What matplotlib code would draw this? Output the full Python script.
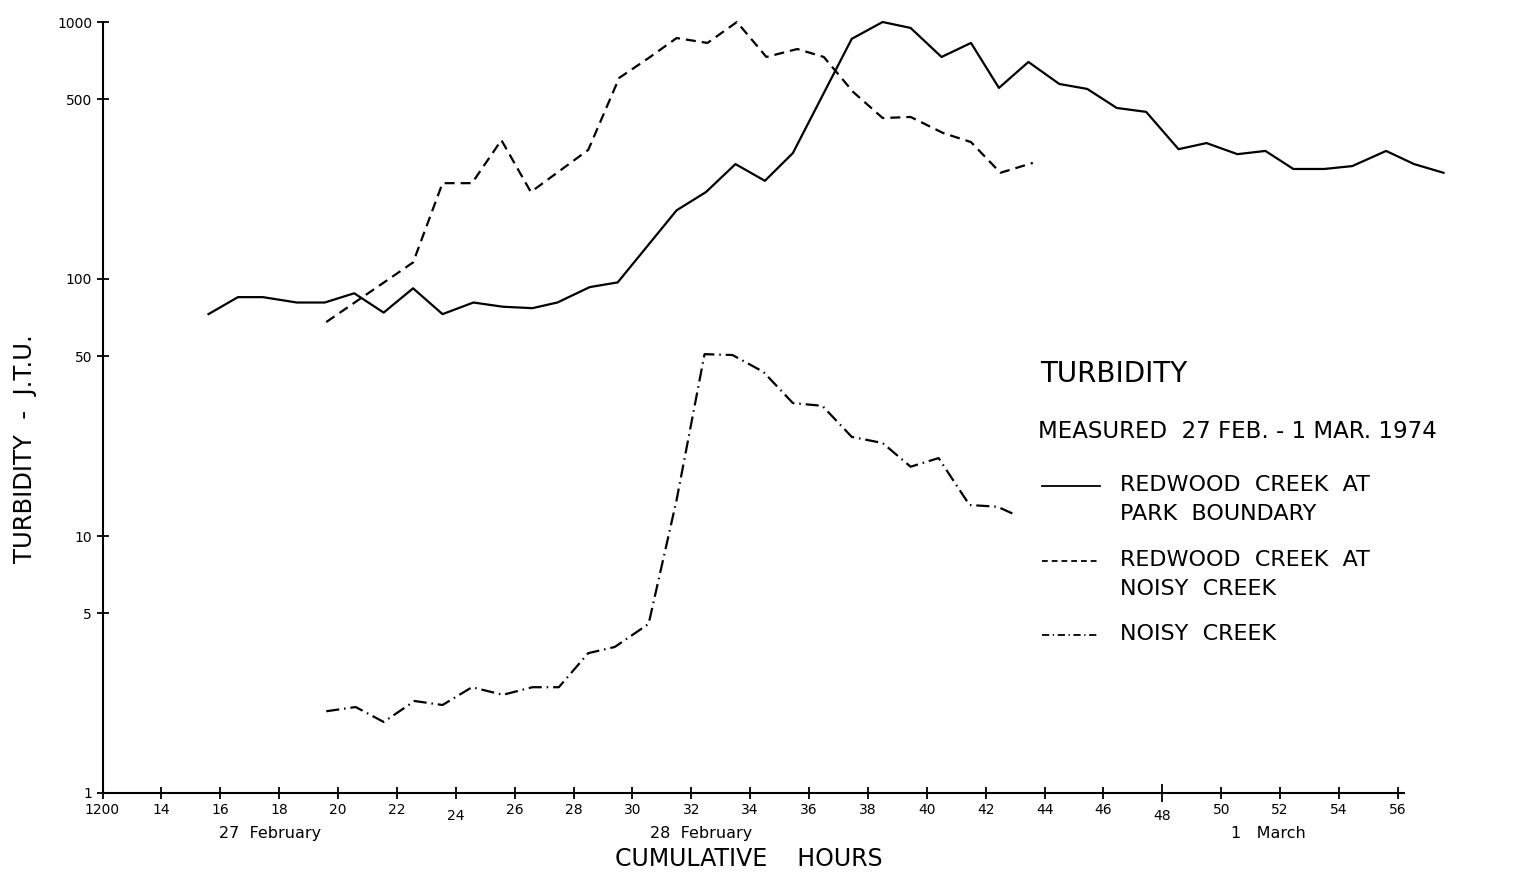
import matplotlib
matplotlib.use("Agg")
import matplotlib.pyplot as plt
from matplotlib.lines import Line2D

# Redwood Creek at park boundary (solid)
park_hours = [15.6, 16.6, 17.45, 18.6, 19.55, 20.55, 21.55, 22.55, 23.55, 24.6,
              25.6, 26.6, 27.45, 28.55, 29.5, 31.5, 32.5, 33.5, 34.5, 35.45,
              37.45, 38.5, 39.45, 40.5, 41.5, 42.45, 43.45, 44.5, 45.45, 46.45,
              47.45, 48.55, 49.5, 50.55, 51.5, 52.45, 53.5, 54.45, 55.6, 56.55,
              57.55]
park_jtu = [73, 85, 85, 81, 81, 88, 74, 92, 73, 81,
            78, 77, 81, 93, 97, 185, 218, 280, 241, 309,
            860, 1000, 948, 731, 829, 554, 699, 574, 549, 463,
            447, 320, 338, 306, 315, 268, 268, 275, 315, 280,
            259]

# Redwood Creek at Noisy Creek (dashed)
rnc_hours = [19.6, 22.55, 23.55, 24.55, 25.55, 26.55, 28.5, 29.55, 30.55, 31.5,
             32.55, 33.55, 34.55, 35.6, 36.5, 37.5, 38.5, 39.45, 40.55, 41.5,
             42.5, 43.6]
rnc_jtu = [68, 116, 236, 236, 347, 218, 318, 606, 724, 866,
           829, 1000, 731, 785, 731, 534, 423, 427, 370, 341,
           259, 283]

# Noisy Creek (dash-dot)
noisy_hours = [19.6, 20.6, 21.55, 22.6, 23.55, 24.55, 25.6, 26.6, 27.5, 28.5,
               29.4, 30.55, 31.5, 32.45, 33.4, 34.45, 35.45, 36.45, 37.45, 38.5,
               39.45, 40.4, 41.45, 42.4, 43.0]
noisy_jtu = [2.08, 2.16, 1.89, 2.28, 2.2, 2.58, 2.41, 2.58, 2.58, 3.5,
             3.7, 4.55, 13.8, 51, 50.6, 43.5, 32.9, 32.1, 24.3, 23.0,
             18.6, 20.1, 13.2, 13.0, 12.1]

x_ticks = list(range(12, 57, 2))
x_labels = ["1200"] + [str(h) for h in x_ticks[1:]]
y_ticks = [1, 5, 10, 50, 100, 500, 1000]
y_labels = ["1", "5", "10", "50", "100", "500", "1000"]

dates = ["27  February", "28  February", "1   March"]
date_pos = [17.7, 32.35, 51.6]

legend_labels = ["REDWOOD  CREEK  AT\nPARK  BOUNDARY",
                 "REDWOOD  CREEK  AT\nNOISY  CREEK",
                 "NOISY  CREEK"]

fig = plt.figure(figsize=(15.2, 8.74), dpi=100)
ax = fig.add_axes([102.5 / 1520, 1 - 793 / 874, (1404 - 102.5) / 1520, 771 / 874])

lw = 1.6
ax.plot(park_hours, park_jtu, color="black", lw=lw, clip_on=False)
ax.plot(rnc_hours, rnc_jtu, color="black", lw=lw, dashes=(4.5, 2.7), clip_on=False)
ax.plot(noisy_hours, noisy_jtu, color="black", lw=lw, dashes=(5.9, 2.2, 0.7, 2.2),
        clip_on=False)

ax.set_yscale("log")
ax.set_ylim(1, 1000)
ax.set_xlim(12, 12 + (1404 - 102.5) / 29.44)
ax.set_yticks(y_ticks)
ax.set_yticklabels(y_labels)
ax.minorticks_off()
ax.set_xticks(x_ticks)
ax.set_xticklabels(x_labels)

for s in ["top", "right"]:
    ax.spines[s].set_visible(False)
for s in ["left", "bottom"]:
    ax.spines[s].set_linewidth(1.5)

ax.tick_params(direction="inout", length=9, width=1.3, labelsize=10, pad=3)

# the hand lettering puts 24 and 48 a bit lower, 48 has a longer tick
for i, h in enumerate(x_ticks):
    t = ax.xaxis.get_major_ticks()[i]
    if h in (24, 48):
        t.set_pad(7)
    if h == 48:
        t.tick1line.set_markersize(13)

for d, p in zip(dates, date_pos):
    ax.text(p, -0.052, d, transform=ax.get_xaxis_transform(), ha="center",
            va="center", fontsize=11.5)
ax.text(33.95, -0.085, "CUMULATIVE    HOURS", transform=ax.get_xaxis_transform(),
        ha="center", va="center", fontsize=17)

fig.text(25 / 1520, 1 - 449 / 874, "TURBIDITY  -  J.T.U.", rotation=90,
         ha="center", va="center", fontsize=17.5)

# legend block
fig.text(1040 / 1520, 1 - 374 / 874, "TURBIDITY", ha="left", va="center",
         fontsize=20)
fig.text(1038 / 1520, 1 - 431 / 874, "MEASURED  27 FEB. - 1 MAR. 1974",
         ha="left", va="center", fontsize=16.5)

styles = [dict(), dict(dashes=(3.2, 2.2)), dict(dashes=(4, 2, 0.7, 2))]
rows = [486, 561, 635]
for lab, st, r in zip(legend_labels, styles, rows):
    fig.add_artist(Line2D([1042 / 1520, 1100 / 1520], [1 - r / 874, 1 - r / 874],
                          transform=fig.transFigure, color="black", lw=1.3, **st))
    fig.text(1120 / 1520, 1 - (r - 11) / 874, lab, ha="left", va="top",
             fontsize=16, linespacing=1.55)

fig.savefig("out.png", dpi=100)
